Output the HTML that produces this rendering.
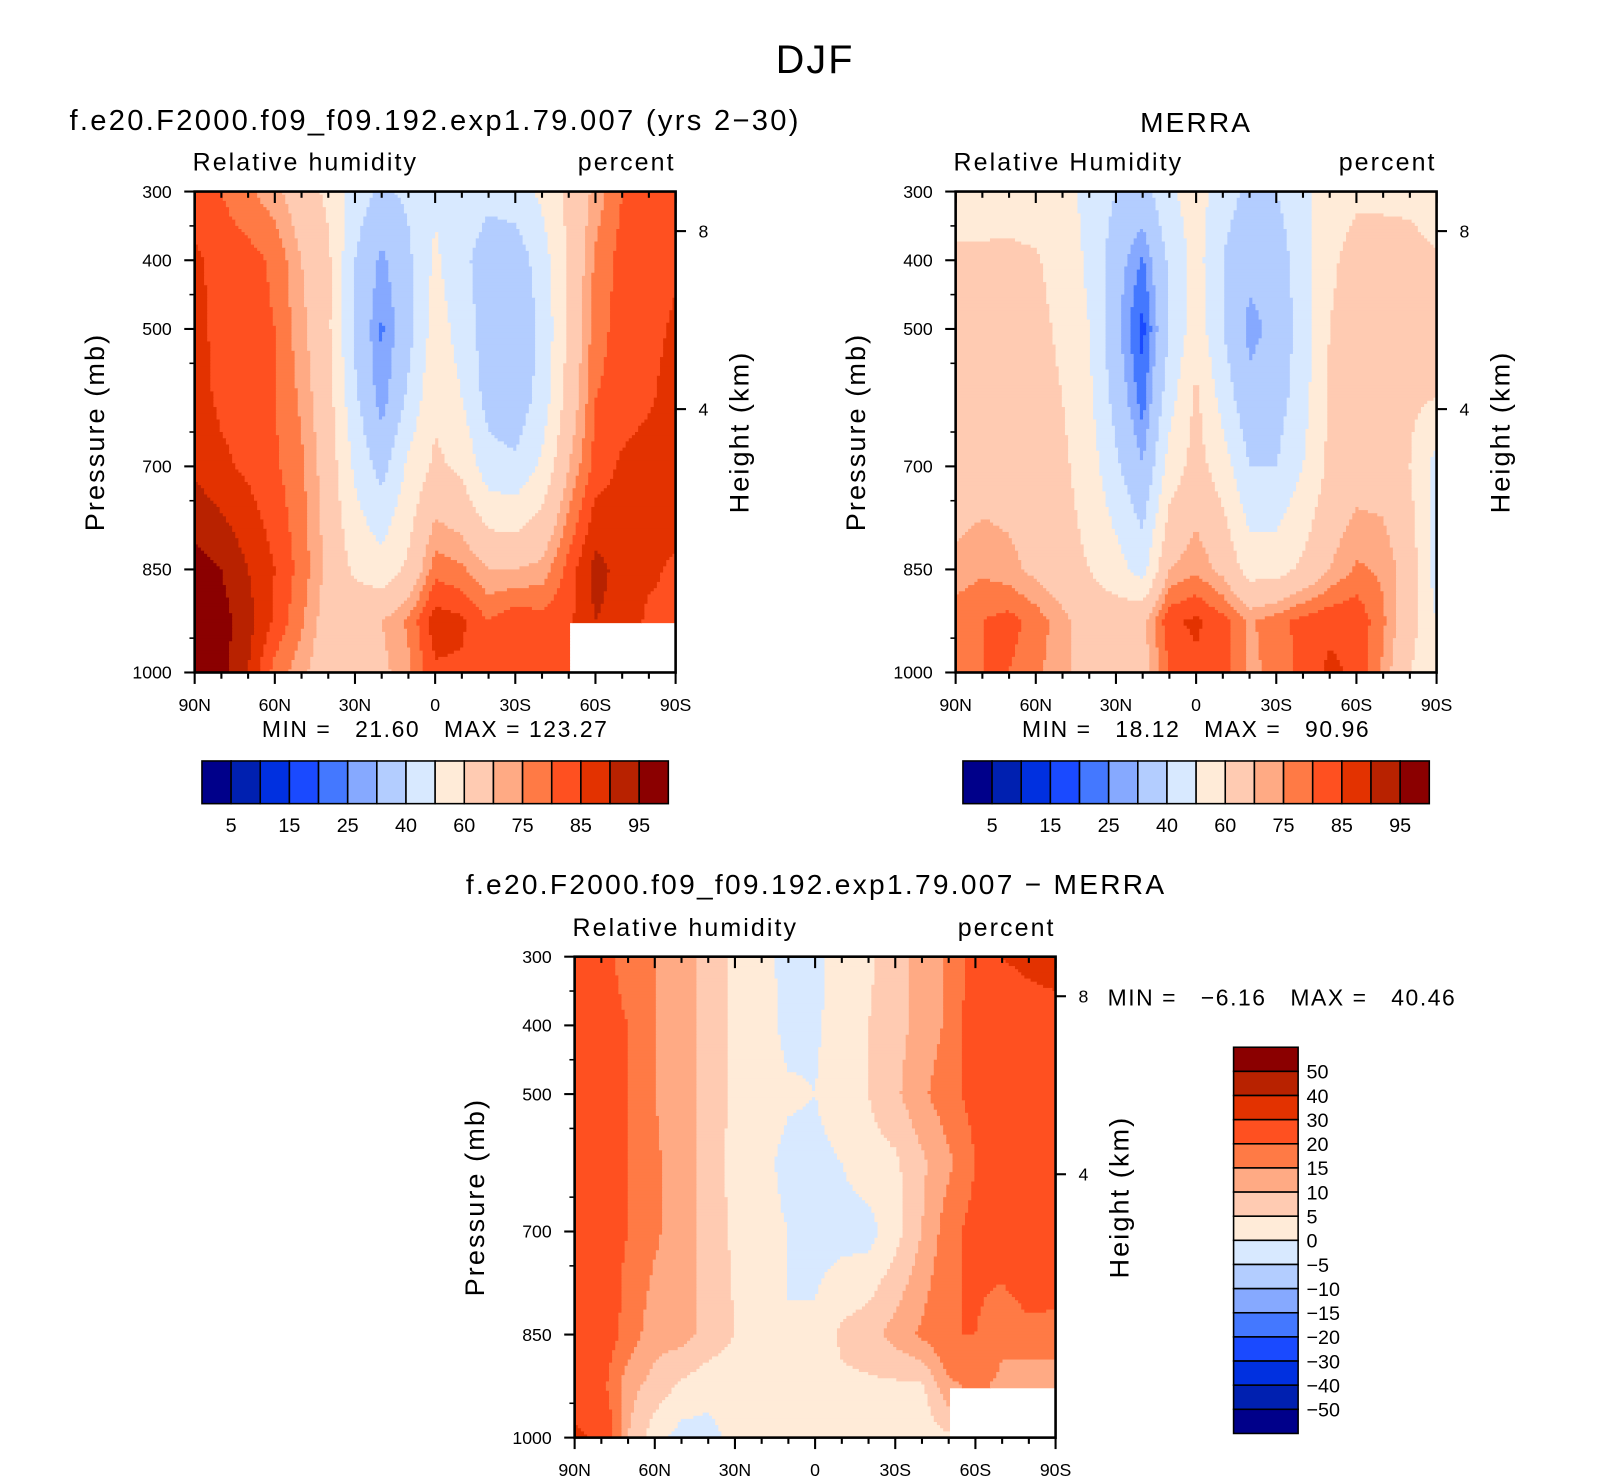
<!DOCTYPE html>
<html><head><meta charset="utf-8"><style>
body{margin:0;background:#fff}
svg{display:block;font-family:"Liberation Sans",sans-serif}
</style></head><body>
<svg id="root" width="1624" height="1476" viewBox="0 0 1624 1476" xmlns="http://www.w3.org/2000/svg">
<g id="s" transform="scale(1.041)">
<text x="783" y="70" font-size="38" text-anchor="middle" letter-spacing="2">DJF</text>
</g>
</svg>
<script>
const lats=[90,80,70,60,50,40,30,20,10,0,-10,-20,-30,-40,-50,-60,-70,-80,-90];
const plevs=[300,400,500,600,700,850,925,1000];
const model=[
[82,80,76,72,65,58,45,38,42,48,45,42,45,52,62,72,80,82,82],
[86,83,82,79,70,62,40,28,38,52,42,36,34,45,62,76,82,83,84],
[87,83,82,80,72,62,38,24,36,55,46,34,32,42,62,78,82,83,86],
[87,84,83,80,74,64,42,26,42,58,50,36,33,44,64,80,82,84,88],
[89,86,84,81,76,66,48,36,52,62,58,44,42,52,70,82,86,88,90],
[97,95,90,85,78,68,58,54,62,78,76,70,70,72,82,92,88,86,84],
[98,97,92,84,76,66,68,70,76,88,86,80,84,82,84,90,88,84,84],
[98,97,90,78,72,64,66,68,74,84,84,80,80,80,82,null,null,null,null]];
const merra=[
[55,55,56,55,52,48,40,36,48,55,44,38,40,48,55,58,58,56,50],
[62,62,62,61,56,48,34,24,42,54,40,32,34,46,58,64,64,66,62],
[64,64,64,63,58,50,32,18,40,56,40,28,32,45,60,66,66,66,64],
[64,65,65,64,60,52,36,22,46,62,46,32,35,46,62,66,66,62,60],
[64,66,66,65,62,55,42,30,54,64,55,40,40,50,62,66,66,60,46],
[72,74,72,68,64,60,54,46,70,74,68,56,56,62,70,76,74,66,45],
[78,80,82,78,72,66,66,68,84,86,82,74,78,82,84,84,76,64,50],
[80,80,80,76,72,66,64,66,80,84,82,74,76,82,86,84,74,60,55]];
const diff=[
[22,22,18,15,12,8,4,2,-2,-2,3,4,8,12,16,22,30,34,36],
[24,22,20,15,12,8,4,3,-2,-1,3,5,8,12,16,24,20,22,24],
[23,22,20,15,12,8,4,3,1,0,4,5,9,14,18,22,24,24,24],
[24,22,20,16,12,8,3,2,-2,-2,0,3,4,9,14,20,22,24,30],
[24,22,20,16,12,8,4,2,0,-2,-2,-2,3,10,18,22,24,28,26],
[26,24,18,12,12,8,5,3,0,1,6,8,12,16,20,20,16,18,18],
[24,22,12,8,4,2,2,2,2,1,4,4,4,4,14,16,14,12,12],
[32,28,10,2,-2,-2,2,2,2,3,3,3,2,2,4,null,null,null,null]];
const rhLevels=[5,10,15,20,25,30,40,50,60,70,75,80,85,90,95];
const rhLabels=["5","15","25","40","60","75","85","95"];
const dLevels=[-50,-40,-30,-20,-15,-10,-5,0,5,10,15,20,30,40,50];
const dLabels=["50","40","30","20","15","10","5","0","\u22125","\u221210","\u221215","\u221220","\u221230","\u221240","\u221250"];
const latLabels=["90N","60N","30N","0","30S","60S","90S"];
const pLabels=[300,400,500,700,850,1000];
const colors=["#00008a","#0020b0","#0030e0","#1a4aff","#4478ff","#86a9ff","#b3cdff","#d8e9ff","#ffebd8","#ffcbb2","#ffaa84","#ff7a45","#ff5020","#e33200","#b82200","#8b0000"];
const NS="http://www.w3.org/2000/svg";
const S=document.getElementById('s');
function mk(tag,at,parent){const e=document.createElementNS(NS,tag);for(const k in at)e.setAttribute(k,at[k]);(parent||S).appendChild(e);return e;}
function txt(s,at,parent){const e=mk('text',at,parent);e.textContent=s;return e;}
function colorFor(v,lv){let i=0;while(i<lv.length&&v>=lv[i])i++;return colors[i];}
function sample(grid,lat,p){
  let i=0;while(i<lats.length-2&&lat<lats[i+1])i++;
  let j=0;while(j<plevs.length-2&&p>plevs[j+1])j++;
  const tx=(lats[i]-lat)/(lats[i]-lats[i+1]);const ty=(p-plevs[j])/(plevs[j+1]-plevs[j]);
  const a=grid[j][i],b=grid[j][i+1],c=grid[j+1][i],d=grid[j+1][i+1];
  if(a===null||b===null||c===null||d===null)return null;
  return (a*(1-tx)+b*tx)*(1-ty)+(c*(1-tx)+d*tx)*ty;
}
function panel(name,x0,y0,grid,lv,left){
  const W=462,H=462;
  const g=mk('g',{},S);
  
  
  const X=lat=>x0+(90-lat)/180*W;
  const Y=p=>y0+(p-300)/700*H;
  const st=3;
  for(let py=0;py<H;py+=st){
    const p=300+(py+st/2)/H*700;
    let runStart=0,runCol=null;
    for(let px=0;px<=W;px+=st){
      let col='none';
      if(px<W){const lat=90-(px+st/2)/W*180;const v=sample(grid,lat,p);col=v===null?'none':colorFor(v,lv);}
      if(col!==runCol){
        if(runCol&&runCol!=='none'){const r=mk('rect',{x:x0+runStart,y:y0+py,width:px-runStart+0.6,height:st+0.6,fill:runCol},g);
          
          }
        runStart=px;runCol=col;}
    }
  }
  mk('rect',{x:x0,y:y0,width:W,height:H,fill:'none',stroke:'#000','stroke-width':2.5},g);
  for(let lat=90;lat>=-90;lat-=10){const major=lat%30===0;const x=X(lat);
    mk('line',{x1:x,y1:y0+H,x2:x,y2:y0+H+(major?11:6),stroke:'#000','stroke-width':2},g);
    mk('line',{x1:x,y1:y0,x2:x,y2:y0+(major?11:6),stroke:'#000','stroke-width':2},g);}
  latLabels.forEach((l,k)=>{const t=txt(l,{x:X(90-30*k),y:y0+H+37,'font-size':17,'text-anchor':'middle'},g);
    
    });
  pLabels.forEach(p=>{mk('line',{x1:x0-10,y1:Y(p),x2:x0,y2:Y(p),stroke:'#000','stroke-width':2},g);
    const t=txt(String(p),{x:x0-22,y:Y(p)+6,'font-size':17,'text-anchor':'end'},g);
    
    });
  for(let p=350;p<1000;p+=100){mk('line',{x1:x0-5,y1:Y(p),x2:x0,y2:Y(p),stroke:'#000','stroke-width':1.5},g);}
  [[8,y0+38],[4,y0+209]].forEach(([h,y])=>{mk('line',{x1:x0+W,y1:y,x2:x0+W+10,y2:y,stroke:'#000','stroke-width':2},g);
    txt(String(h),{x:x0+W+22,y:y+6,'font-size':17},g);});
  txt('Pressure (mb)',{transform:`translate(${x0-87},${y0+231}) rotate(-90)`,'font-size':26,'text-anchor':'middle','letter-spacing':'2'},g);
  txt('Height (km)',{transform:`translate(${x0+W+70},${y0+231}) rotate(-90)`,'font-size':26,'text-anchor':'middle','letter-spacing':'2'},g);
  txt(left,{x:x0-2,y:y0-20,'font-size':24,'letter-spacing':'2'},g);
  txt('percent',{x:x0+W,y:y0-20,'font-size':24,'text-anchor':'end','letter-spacing':'2'},g);
}
panel('model-panel',187,184,model,rhLevels,'Relative humidity');
panel('merra-panel',918,184,merra,rhLevels,'Relative Humidity');
panel('diff-panel',552,919,diff,dLevels,'Relative humidity');
txt('f.e20.F2000.f09_f09.192.exp1.79.007 (yrs 2\u221230)',{x:418,y:125,'font-size':28,'text-anchor':'middle','letter-spacing':'2.2'});
txt('MERRA',{x:1149,y:127,'font-size':27,'text-anchor':'middle','letter-spacing':'2'});
txt('f.e20.F2000.f09_f09.192.exp1.79.007 \u2212 MERRA',{x:784,y:859,'font-size':27,'text-anchor':'middle','letter-spacing':'2.2'});
txt('MIN =   21.60   MAX = 123.27',{x:418,y:708,'font-size':22,'text-anchor':'middle','letter-spacing':'1.5','xml:space':'preserve'});
txt('MIN =   18.12   MAX =   90.96',{x:1149,y:708,'font-size':22,'text-anchor':'middle','letter-spacing':'1.5','xml:space':'preserve'});
txt('MIN =   \u22126.16   MAX =   40.46',{x:1064,y:966,'font-size':22,'letter-spacing':'1.5','xml:space':'preserve'});
document.querySelectorAll('text').forEach(t=>{if(t.getAttribute('xml:space'))t.style.whiteSpace='pre';});
function hbar(name,x0,y0){const g=mk('g',{},S);
  
  
  colors.forEach((c,k)=>{mk('rect',{x:x0+k*28,y:y0,width:28,height:41,fill:c,stroke:'#000','stroke-width':1.5},g);});
  rhLabels.forEach((l,k)=>{txt(l,{x:x0+28*(2*k+1),y:y0+68,'font-size':19,'text-anchor':'middle'},g);});}
hbar('model-colorbar',194,731);hbar('merra-colorbar',925,731);
(function(){const g=mk('g',{},S);
  
  
  const h=371/16;
  for(let k=0;k<16;k++){mk('rect',{x:1185,y:1006+k*h,width:62,height:h,fill:colors[15-k],stroke:'#000','stroke-width':1.5},g);}
  dLabels.forEach((l,k)=>{txt(l,{x:1255,y:1006+(k+1)*h+7,'font-size':19},g);});})();
</script>
</body></html>
